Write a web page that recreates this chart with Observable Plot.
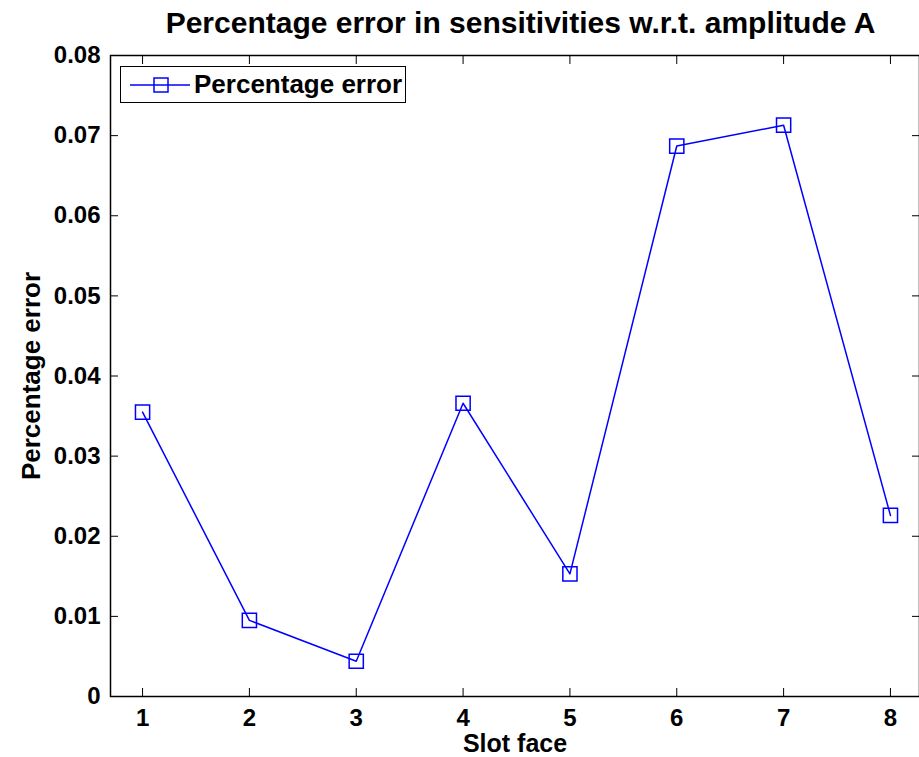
<!DOCTYPE html>
<html>
<head>
<meta charset="utf-8">
<script src="https://cdn.jsdelivr.net/npm/d3@7"></script>
<script src="https://cdn.jsdelivr.net/npm/@observablehq/plot@0.6"></script>
<style>
  html, body { margin: 0; padding: 0; background: #fff; }
  #wrap { position: relative; width: 919px; height: 757px; overflow: hidden; background: #fff; font-family: "Liberation Sans", Arial, Helvetica, sans-serif; font-weight: bold; }
  #title { position: absolute; left: 0; top: 8px; z-index: 2; height: 30px; width: 919px; text-align: center; font-size: 30px; line-height: 30px; padding-left: 122px; box-sizing: border-box; white-space: nowrap; }
  #chart { position: absolute; left: 0; top: 30px; z-index: 1; }
  #legend { position: absolute; z-index: 3; left: 120px; top: 66px; width: 286px; height: 37px; box-sizing: border-box; border: 1.5px solid #000; background: #fff; display: flex; align-items: center; white-space: nowrap; }
  #legend span { font-size: 26px; margin-left: 2px; white-space: nowrap; }
</style>
</head>
<body>
<div id="wrap">
  <div id="title">Percentage error in sensitivities w.r.t. amplitude A</div>
  <div id="chart"></div>
  <div id="legend">
    <svg width="64" height="30" style="margin-left:7px; flex: none"><line x1="2" y1="15" x2="62" y2="15" stroke="#0000ff" stroke-width="1.5"/><rect x="26" y="8" width="14" height="14" fill="none" stroke="#0000ff" stroke-width="1.5"/></svg>
    <span>Percentage error</span>
  </div>
</div>
<script>
const slotFaces = [1, 2, 3, 4, 5, 6, 7, 8];
const percentageError = [0.0355, 0.0095, 0.0044, 0.0366, 0.0153, 0.0687, 0.0713, 0.0226];
const xTicks = [1, 2, 3, 4, 5, 6, 7, 8];
const yTicks = [0, 0.01, 0.02, 0.03, 0.04, 0.05, 0.06, 0.07, 0.08];
const yTickLabels = ["0", "0.01", "0.02", "0.03", "0.04", "0.05", "0.06", "0.07", "0.08"];

const data = slotFaces.map((s, i) => ({slot: s, err: percentageError[i]}));
const blue = "#0000ff";
const font = "Liberation Sans, Arial, Helvetica, sans-serif";

const plot = Plot.plot({
  width: 919,
  height: 727,
  marginTop: 25,
  marginBottom: 61,
  marginLeft: 110,
  marginRight: 0,
  style: {fontFamily: font, fontWeight: "bold", fontSize: "24px", color: "#000", background: "transparent"},
  x: {domain: [0.7, 8.3], range: [110, 922]},
  y: {domain: [0, 0.08]},
  marks: [
    Plot.frame({stroke: "#000", strokeWidth: 1.5}),
    // inward ticks on all four sides
    Plot.axisX({ticks: xTicks, anchor: "bottom", tickSize: -8, text: null, label: null, stroke: "#000"}),
    Plot.axisX({ticks: xTicks, anchor: "top", tickSize: -8, text: null, label: null, stroke: "#000"}),
    Plot.axisY({ticks: yTicks, anchor: "left", tickSize: -8, text: null, label: null, stroke: "#000"}),
    Plot.axisY({ticks: yTicks, anchor: "right", tickSize: -8, text: null, label: null, stroke: "#000"}),
    // tick labels
    Plot.axisX({ticks: xTicks, anchor: "bottom", tickSize: 0, tickPadding: 12, label: null, fontSize: 24, fontWeight: "bold", fill: "#000"}),
    Plot.axisY({ticks: yTicks, anchor: "left", tickSize: 0, tickPadding: 10, label: null, tickFormat: (d, i) => yTickLabels[i], fontSize: 24, fontWeight: "bold", fill: "#000"}),
    // axis titles
    Plot.text(["Slot face"], {frameAnchor: "bottom", dy: 55, fontSize: 25, fontWeight: "bold", fill: "#000", textAnchor: "middle"}),
    Plot.text(["Percentage error"], {frameAnchor: "left", rotate: -90, dx: -79, fontSize: 26, fontWeight: "bold", fill: "#000", textAnchor: "middle"}),
    Plot.line(data, {x: "slot", y: "err", stroke: blue, strokeWidth: 1.5}),
    Plot.dot(data, {x: "slot", y: "err", symbol: "square", r: 8, stroke: blue, strokeWidth: 1.5, fill: "none"})
  ]
});
document.getElementById("chart").appendChild(plot);
</script>
</body>
</html>
